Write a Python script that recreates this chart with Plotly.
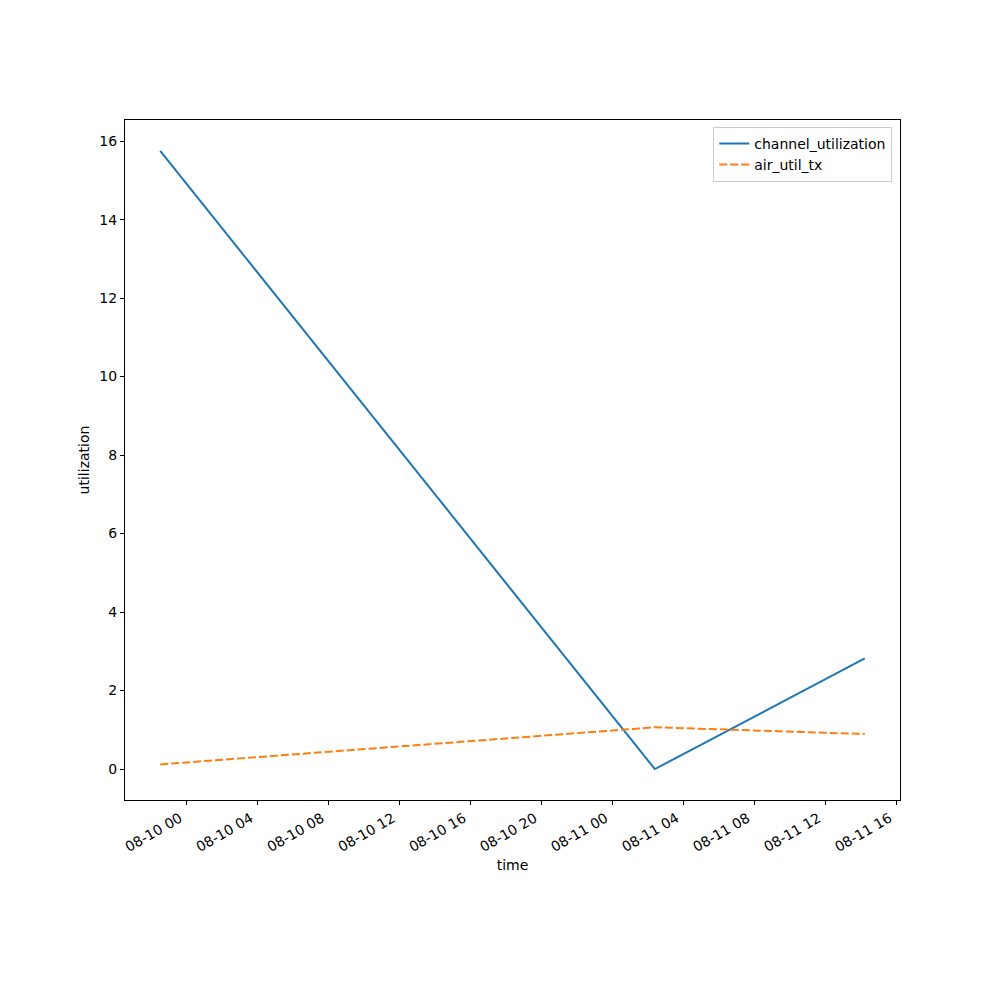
import plotly.graph_objects as go
import pandas as pd

# Sample timestamps and utilization readings
times = ["2025-08-09 22:30", "2025-08-11 02:23", "2025-08-11 14:13"]
channel_utilization = [15.75, 0.0, 2.82]
air_util_tx = [0.12, 1.065, 0.894]

t = pd.to_datetime(times)

# Axis ranges padded by 5% on each side
t_min, t_max = t.min(), t.max()
t_pad = (t_max - t_min) * 0.05
x_range = [t_min - t_pad, t_max + t_pad]
y_all = channel_utilization + air_util_tx
y_lo, y_hi = min(y_all), max(y_all)
y_pad = (y_hi - y_lo) * 0.05
y_range = [y_lo - y_pad, y_hi + y_pad]

font = dict(family="DejaVu Sans", size=14, color="black")
title_font = dict(family="DejaVu Sans", size=14, color="black")

fig = go.Figure()
fig.add_trace(go.Scatter(
    x=t, y=channel_utilization, mode="lines", name="channel_utilization",
    line=dict(color="#1f77b4", width=2),
))
fig.add_trace(go.Scatter(
    x=t, y=air_util_tx, mode="lines", name="air_util_tx",
    line=dict(color="#ff7f0e", width=2, dash="8px,3px"),
))

fig.update_layout(
    width=1000, height=1000,
    margin=dict(l=125, r=100, t=120, b=200),
    paper_bgcolor="white", plot_bgcolor="white",
    font=font,
    legend=dict(
        x=0.99, y=0.99, xanchor="right", yanchor="top",
        bgcolor="rgba(255,255,255,0.8)", bordercolor="#cccccc", borderwidth=1,
        font=dict(family="DejaVu Sans", size=14),
        tracegroupgap=0,
    ),
    xaxis=dict(
        type="date", range=x_range,
        tickformat="%m-%d %H", dtick=4 * 3600 * 1000,
        tick0="2025-08-10 00:00",
        tickangle=-30, ticks="outside", ticklen=4, tickcolor="black",
        ticklabelshift=-7,
        tickfont=dict(family="DejaVu Sans", size=14),
        showline=True, linecolor="black", linewidth=1, mirror=True,
        showgrid=False, zeroline=False,
        title=dict(text="time", standoff=6, font=title_font),
    ),
    yaxis=dict(
        range=y_range, dtick=2,
        ticks="outside", ticklen=4, tickcolor="black",
        tickfont=dict(family="DejaVu Sans", size=14),
        showline=True, linecolor="black", linewidth=1, mirror=True,
        showgrid=False, zeroline=False,
        title=dict(text="utilization", standoff=6, font=title_font),
    ),
)

fig.write_html("out.html")
